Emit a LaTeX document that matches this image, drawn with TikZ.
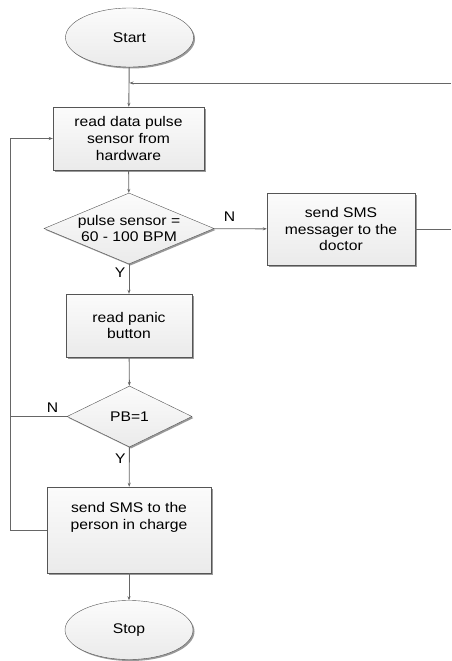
\documentclass[tikz,border=0pt]{standalone}
\usepackage{fontspec}
\setmainfont{Liberation Sans}[FakeStretch=1.12]
\usetikzlibrary{shapes.geometric,shadows,arrows.meta}
\definecolor{linegray}{HTML}{666666}
\definecolor{edgegray}{HTML}{555555}
\begin{document}
\begin{tikzpicture}[x=1pt,y=1pt,>={Stealth[length=4pt,width=3pt]},
    every node/.style={font=\fontsize{14}{16.7}\selectfont,align=center},
    terminal/.style={draw=edgegray,ellipse,top color=gray!3,bottom color=gray!16,
        drop shadow={shadow xshift=1.5pt,shadow yshift=-1.5pt,fill=gray!80,opacity=1},
        inner sep=0pt,minimum width=128pt,minimum height=59pt},
    process/.style={draw=edgegray,rectangle,top color=gray!3,bottom color=gray!16,
        drop shadow={shadow xshift=1.5pt,shadow yshift=-1.5pt,fill=gray!80,opacity=1},
        inner sep=0pt},
    decision/.style={draw=edgegray,diamond,top color=gray!3,bottom color=gray!16,
        drop shadow={shadow xshift=1.5pt,shadow yshift=-1.5pt,fill=gray!80,opacity=1},
        inner sep=0pt},
    link/.style={draw=linegray,line width=0.9pt}]
        \useasboundingbox (0,0) rectangle (451,-661);
        \node[terminal] at (129.5,-37.5) (1) {Start};
        \node[process,minimum width=151pt,minimum height=63pt] at (128.5,-138.5) (2) {read data pulse\\sensor from\\hardware};
        \node[decision,minimum width=170pt,minimum height=71pt,label={[align=center]center:pulse sensor =\\60 - 100 BPM}] at (129,-228.5) (3) {};
        \node[process,minimum width=148pt,minimum height=72pt] at (341,-229) (4) {send SMS\\messager to the\\doctor};
        \node[process,minimum width=126pt,minimum height=63pt] at (129,-325.5) (5) {read panic\\button};
        \node[decision,minimum width=125pt,minimum height=61pt,label={center:PB=1}] at (129.5,-416.5) (6) {};
        \node[process,minimum width=164pt,minimum height=86pt] at (129,-530) (7) {send SMS to the\\person in charge\\[12pt]};
        \node[terminal] at (129,-630) (8) {Stop};
        \coordinate (r1) at (451,-229);
        \coordinate (r2) at (451,-83);
        \coordinate (j) at (129.5,-83);
        \coordinate (l) at (10,-530);
        \draw[link,->] (1) -- (2);
        \draw[link,->] (r2) -- (j);
        \draw[link,->] (2) -- (3);
        \draw[link,->] (3) -- node[above=3pt,pos=0.3] {N} (4);
        \draw[link] (4) -- (r1);
        \draw[link,->] (3) -- node[left,pos=0.3] {Y} (5);
        \draw[link,->] (5) -- (6);
        \draw[link] (6) -- node[above,pos=0.25] {N} (6.west -| l);
        \draw[link,->] (6) -- node[left,pos=0.3] {Y} (7);
        \draw[link,->] (7) -- (l) |- (2);
        \draw[link,->] (7) -- (8);
    \end{tikzpicture}
\end{document}
